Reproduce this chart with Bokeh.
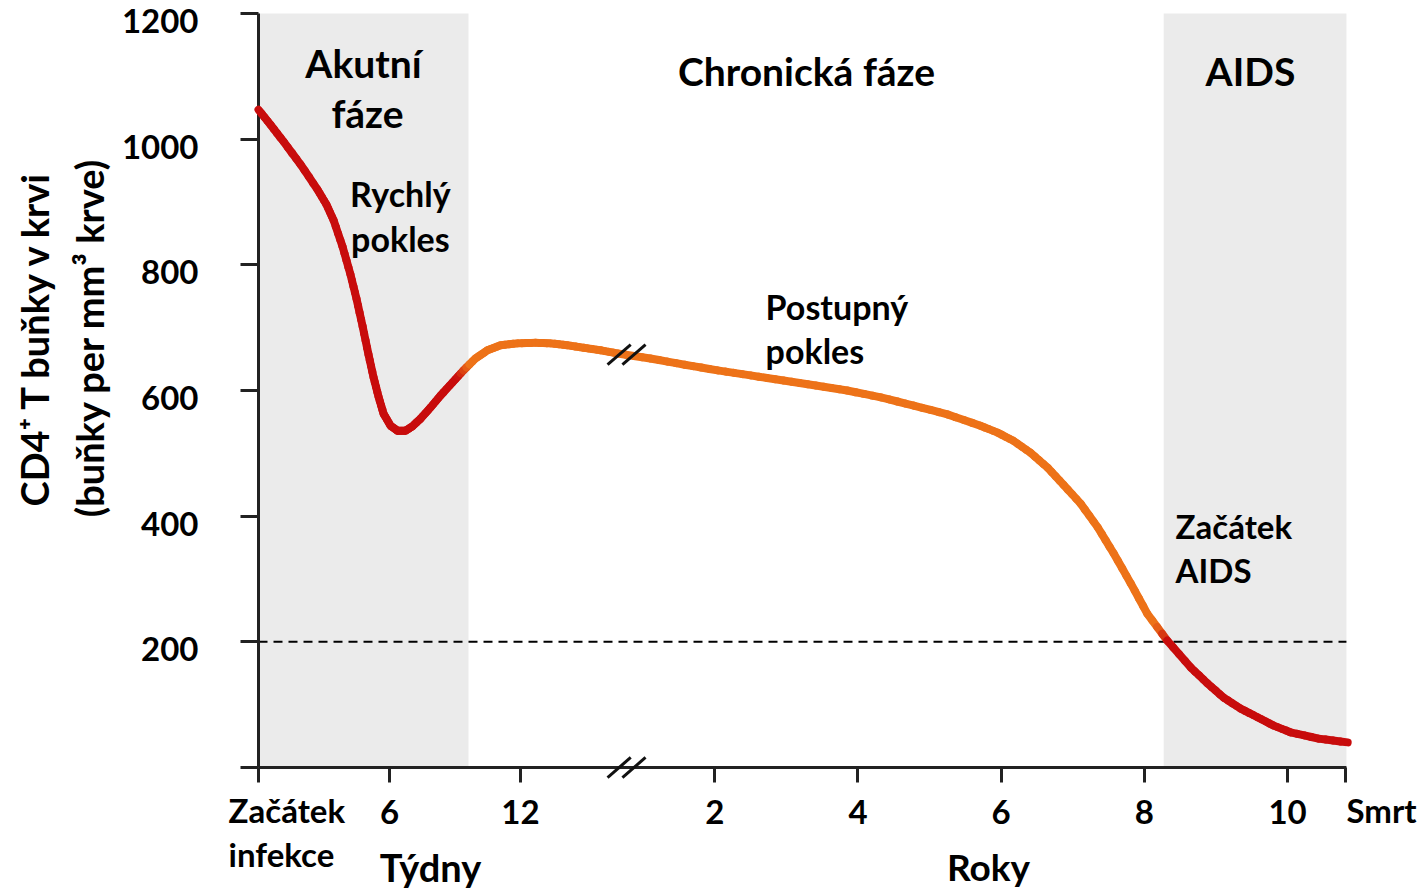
import math
from bokeh.plotting import figure
from bokeh.models import FixedTicker, BoxAnnotation, Label, Arrow, Range1d
from bokeh.embed import file_html
from bokeh.resources import INLINE

# ---------------- data ----------------
# acute phase, time in weeks since infection
weeks = [0, 0.55, 1.15, 1.92, 2.70, 3.11, 3.44, 3.85, 4.21, 4.49, 4.77, 5.04,
         5.27, 5.50, 5.73, 6.05, 6.37, 6.73, 7.05, 7.42, 7.88, 8.34, 8.89,
         9.39, 9.94, 10.49, 11.09, 11.86, 12.69, 13.38, 14.15, 14.89, 15.67, 16.45]
cd4_weeks = [1047, 1023, 996, 960, 920, 896, 871, 829, 785, 746, 702, 657,
             621, 590, 563, 544, 536, 536, 543, 555, 573, 592, 613,
             632, 651, 664, 672, 675, 676, 675, 672, 668, 664, 659]
# chronic phase and AIDS, time in years
years = [1.10, 1.58, 2.04, 2.50, 2.96, 3.41, 3.85, 4.32, 4.78, 5.25, 5.71,
         5.95, 6.17, 6.41, 6.65, 6.87, 7.11, 7.35, 7.57, 7.81, 8.04, 8.32,
         8.65, 8.88, 9.11, 9.34, 9.58, 9.80, 10.04, 10.43, 10.84]
cd4_years = [651, 641, 632, 624, 616, 608, 600, 589, 576, 562, 544,
             533, 520, 501, 477, 450, 420, 382, 341, 293, 245, 202,
             159, 134, 111, 94, 80, 67, 56, 46, 40]

week_ticks = [0, 6, 12]
year_ticks = [2, 4, 6, 8, 10]
death_year = 10.81
y_ticks = [0, 200, 400, 600, 800, 1000, 1200]
aids_threshold = 200
acute_end_week = 9.62
aids_start_year = 8.27
break_week = 16.86
curve_at_break = 657

# ---------------- layout of the broken time axis ----------------
W, H = 1424, 889
PX_PER_UNIT = 21.83          # screen px per axis unit (1 week)
PX_PER_VAL = 754 / 1200      # screen px per cell/mm3
ORIGIN_X, ORIGIN_Y = 258, 767  # where (0, 0) sits on the canvas
YEAR_ORIGIN = 14.34          # axis position of year 0
YEAR_SCALE = 3.28            # axis units per year


def ypos(yr):
    return YEAR_ORIGIN + yr * YEAR_SCALE


X_END = ypos(death_year) + 0.04

FONT = "Lato"
RED = (200, 12, 12)
ORANGE = (237, 114, 24)
AX = "#222222"

p = figure(width=W, height=H, output_backend="svg", toolbar_location=None,
           x_range=Range1d(-ORIGIN_X / PX_PER_UNIT, (W - ORIGIN_X) / PX_PER_UNIT),
           y_range=Range1d((ORIGIN_Y - H) / PX_PER_VAL, ORIGIN_Y / PX_PER_VAL),
           min_border_left=0, min_border_right=0, min_border_top=0,
           min_border_bottom=0)
p.outline_line_color = None
p.xgrid.visible = False
p.ygrid.visible = False
p.background_fill_color = "white"
p.border_fill_color = "white"

# shaded phases
p.add_layout(BoxAnnotation(left=0, right=acute_end_week, bottom=0, top=1200,
                           fill_color="#ebebeb", fill_alpha=1, line_color=None,
                           level="underlay"))
p.add_layout(BoxAnnotation(left=ypos(aids_start_year), right=X_END, bottom=0, top=1200,
                           fill_color="#ebebeb", fill_alpha=1, line_color=None,
                           level="underlay"))

# threshold line
p.segment([0], [aids_threshold], [X_END], [aids_threshold], line_color="black",
          line_width=2, line_dash="9 6")

# axis lines
p.segment([0, 0], [0, 0], [0, X_END], [1200, 0], line_color=AX, line_width=3)

# curve with colour gradient red -> orange -> red
xs = list(weeks) + [ypos(v) for v in years]
ys = list(cd4_weeks) + list(cd4_years)


def mix(t):
    t = max(0.0, min(1.0, t))
    c = [round(RED[i] + (ORANGE[i] - RED[i]) * t) for i in range(3)]
    return "#%02x%02x%02x" % tuple(c)


x0, y0, x1, y1, cols = [], [], [], [], []
a1, a2 = acute_end_week - 0.45, acute_end_week + 0.1
b1, b2 = ypos(aids_start_year) - 0.3, ypos(aids_start_year) + 0.3
for i in range(len(xs) - 1):
    n = 4
    for k in range(n):
        ta, tb = k / n, (k + 1) / n
        xa = xs[i] + (xs[i + 1] - xs[i]) * ta
        xb = xs[i] + (xs[i + 1] - xs[i]) * tb
        ya = ys[i] + (ys[i + 1] - ys[i]) * ta
        yb = ys[i] + (ys[i + 1] - ys[i]) * tb
        xm = (xa + xb) / 2
        if xm < 25:
            t = (xm - a1) / (a2 - a1)
        else:
            t = 1 - (xm - b1) / (b2 - b1)
        x0.append(xa); y0.append(ya); x1.append(xb); y1.append(yb); cols.append(mix(t))
p.segment(x0, y0, x1, y1, line_color=cols, line_width=8, line_cap="round")

# break marks on curve and axis
dx, dy, off = 0.53, 16, 0.34
for c in (-off, off):
    for base in (curve_at_break, 0):
        p.add_layout(Arrow(end=None, x_start=break_week + c - dx, y_start=base - dy,
                           x_end=break_week + c + dx, y_end=base + dy,
                           line_color="#111111", line_width=3))

# x axis
x_tick_pos = week_ticks + [ypos(v) for v in year_ticks] + [ypos(death_year)]
xa = p.xaxis[0]
xa.fixed_location = 0
xa.ticker = FixedTicker(ticks=x_tick_pos, minor_ticks=[])
overrides = {0: ""}
for w in week_ticks[1:]:
    overrides[w] = str(w)
for yv in year_ticks:
    overrides[ypos(yv)] = str(yv)
overrides[ypos(death_year)] = ""
xa.major_label_overrides = overrides
xa.axis_line_color = None
xa.major_tick_line_width = 3
xa.major_tick_line_color = AX
xa.major_tick_out = 15
xa.major_tick_in = 0
xa.major_label_standoff = 17
xa.major_label_text_font = FONT
xa.major_label_text_font_style = "bold"
xa.major_label_text_font_size = "33px"
xa.major_label_text_color = "black"

# y axis: tick marks at values, labels sit slightly lower like the reference
ya = p.yaxis[0]
ya.fixed_location = 0
label_vals = [v - 12 for v in y_ticks[1:]]
ya.ticker = FixedTicker(ticks=label_vals, minor_ticks=y_ticks)
ya.major_label_overrides = {v - 12: str(v) for v in y_ticks[1:]}
ya.axis_line_color = None
ya.major_tick_line_color = None
ya.major_tick_out = 18
ya.major_tick_in = 0
ya.minor_tick_line_width = 3
ya.minor_tick_line_color = AX
ya.minor_tick_out = 18
ya.minor_tick_in = 0
ya.major_label_standoff = 42
ya.major_label_text_font = FONT
ya.major_label_text_font_style = "bold"
ya.major_label_text_font_size = "33px"
ya.major_label_text_color = "black"


def lab(x, y, text, size="33px", align="center", angle=0):
    p.add_layout(Label(x=x, y=y, text=text, text_font=FONT, text_font_style="bold",
                       text_font_size=size, text_align=align, text_baseline="middle",
                       text_color="black", angle=angle))


# annotations inside the plot
lab(4.81, 1122, "Akutní", "39px")
lab(4.99, 1042, "fáze", "39px")
lab(6.5, 914, "Rychlý", "34px")
lab(6.5, 842, "pokles", "34px")
lab(25.1, 1108, "Chronická fáze", "39px")
lab(45.44, 1108, "AIDS", "39px")
lab(23.23, 734, "Postupný", "34px", "left")
lab(23.23, 664, "pokles", "34px", "left")
lab(42.01, 385, "Začátek", "33px", "left")
lab(42.01, 315, "AIDS", "33px", "left")

# labels under the axis
lab(-1.37, -68, "Začátek", "33px", "left")
lab(-1.37, -137, "infekce", "33px", "left")
lab(49.84, -68, "Smrt", "33px", "left")
lab(7.88, -158, "Týdny", "38px")
lab(33.44, -158, "Roky", "37px")

# y axis title
lab(-10.3, 684, "CD4⁺ T buňky v krvi", "38px", angle=math.pi / 2)
lab(-7.75, 684, "(buňky per mm³ krve)", "38px", angle=math.pi / 2)

open("out.html", "w").write(file_html(p, INLINE))
